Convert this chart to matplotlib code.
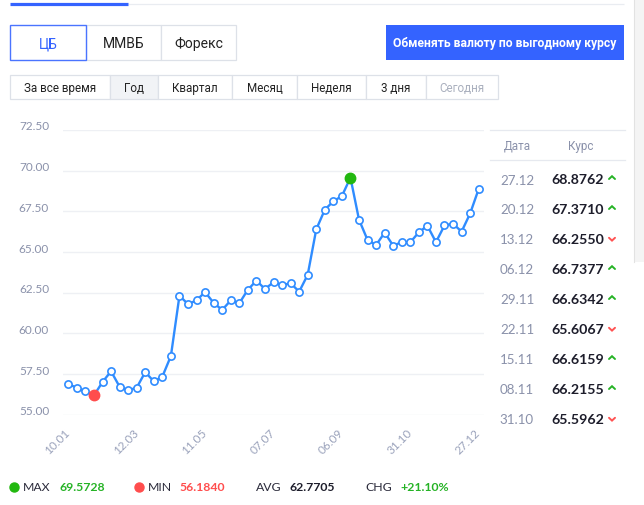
import matplotlib
matplotlib.use('Agg')
import matplotlib.pyplot as plt
from matplotlib.patches import Rectangle
from matplotlib.transforms import ScaledTranslation

# ---------------- data ----------------
rates = [56.88, 56.66, 56.44, 56.184, 57.01, 57.67, 56.72, 56.50, 56.66, 57.62,
         57.05, 57.34, 58.61, 62.31, 61.80, 62.03, 62.54, 61.87, 61.44, 62.03,
         61.85, 62.68, 63.24, 62.73, 63.14, 62.95, 63.09, 62.56, 63.60, 66.39,
         67.60, 68.12, 68.44, 69.5728, 66.99, 65.74, 65.43, 66.19, 65.39, 65.61,
         65.5962, 66.2155, 66.6159, 65.6067, 66.6342, 66.7377, 66.2550, 67.3710, 68.8762]
x_labels = ['10.01', '12.03', '11.05', '07.07', '06.09', '31.10', '27.12']
x_label_step = 8
y_ticks = [55.0, 57.5, 60.0, 62.5, 65.0, 67.5, 70.0, 72.5]

sources = ['ЦБ', 'ММВБ', 'Форекс']
periods = ['За все время', 'Год', 'Квартал', 'Месяц', 'Неделя', '3 дня', 'Сегодня']
action_label = 'Обменять валюту по выгодному курсу'

table_header = ['Дата', 'Курс']
table_dates = ['27.12', '20.12', '13.12', '06.12', '29.11', '22.11', '15.11', '08.11', '31.10']

stat_names = ['MAX', 'MIN', 'AVG', 'CHG']
stat_values = ['69.5728', '56.1840', '62.7705', '+21.10%']

# ---------------- style ----------------
W, H = 644, 506
BLUE = '#3463ff'
LINE = '#2f8cff'
GREEN = '#26b326'
RED = '#ff5252'
GRAYTXT = '#8a91aa'
DARK = '#1d1d2b'
BORDER = '#dde1e8'
UI_FONT = ['Roboto', 'DejaVu Sans']
NUM_FONT = ['Lato', 'Open Sans', 'DejaVu Sans']

plt.rcParams['font.family'] = UI_FONT

fig = plt.figure(figsize=(W / 100, H / 100), dpi=100)
fig.patch.set_facecolor('white')

ui = fig.add_axes([0, 0, 1, 1], zorder=0)
ui.set_xlim(0, W)
ui.set_ylim(H, 0)
ui.axis('off')

# top tab indicator
ui.plot([128, 624], [4.6, 4.6], color='#e9ecf1', lw=0.9, solid_capstyle='butt')
ui.plot([10, 128], [4.6, 4.6], color=BLUE, lw=2.3, solid_capstyle='butt')

# right scrollbar strip
ui.add_patch(Rectangle((634, 0), 10, 263, fc='#f4f4f4', ec='none'))
ui.plot([634, 634], [0, 263], color='#e2e2e2', lw=0.8)

# source buttons
src_edges = [10, 86, 161, 236]
for i, s in enumerate(sources):
    x0, x1 = src_edges[i], src_edges[i + 1]
    if i > 0:
        ui.add_patch(Rectangle((x0, 26), x1 - x0, 35, fc='white', ec=BORDER, lw=0.9))
for i, s in enumerate(sources):
    x0, x1 = src_edges[i], src_edges[i + 1]
    if i == 0:
        ui.add_patch(Rectangle((x0, 26), x1 - x0, 35, fc='white', ec='#4a74ff', lw=1.0, zorder=3))
    ui.text((x0 + x1) / 2, 44, s, ha='center', va='center', fontsize=10,
            color=BLUE if i == 0 else '#222222', zorder=4)

# action button
ui.add_patch(Rectangle((386, 26), 238, 35, fc=BLUE, ec='none'))
ui.text(505, 43.5, action_label, ha='center', va='center', fontsize=8.7,
        color='white', fontweight='bold')

# period tabs
tab_edges = [10, 110, 158, 232, 297, 366, 426, 498]
for i, p in enumerate(periods):
    x0, x1 = tab_edges[i], tab_edges[i + 1]
    fc = '#f1f3f6' if p == 'Год' else 'white'
    ui.add_patch(Rectangle((x0, 76), x1 - x0, 24, fc=fc, ec=BORDER, lw=0.9))
    ui.text((x0 + x1) / 2, 88.5, p, ha='center', va='center', fontsize=8.4,
            color='#aab0be' if p == 'Сегодня' else '#222222')

# ---------------- chart ----------------
top_px, bot_px, left_px, right_px = 131, 415.7, 63, 484
ax = fig.add_axes([left_px / W, 1 - bot_px / H, (right_px - left_px) / W,
                   (bot_px - top_px) / H], zorder=2)
ax.patch.set_alpha(0)
n = len(rates)
ax.set_xlim(-0.62, n - 1 + 0.62)
ax.set_ylim(y_ticks[0], y_ticks[-1])
for sp in ax.spines.values():
    sp.set_visible(False)
ax.set_yticks(y_ticks)
ax.set_yticklabels([f'{t:.2f}' for t in y_ticks], fontfamily=NUM_FONT,
                   fontsize=8.5, color=GRAYTXT)
ax.tick_params(axis='y', length=0, pad=10)
up_shift = ScaledTranslation(0, 5 / 100, fig.dpi_scale_trans)
for lab in ax.get_yticklabels():
    lab.set_transform(lab.get_transform() + up_shift)
ax.yaxis.grid(True, color='#eef0f4', lw=1.0)
ax.set_axisbelow(True)

xt = list(range(0, n, x_label_step))
ax.set_xticks(xt)
ax.set_xticklabels(x_labels, rotation=45, ha='right', va='center',
                   rotation_mode='anchor', fontfamily=NUM_FONT,
                   fontsize=8.5, color='#9aa2bb')
ax.tick_params(axis='x', length=0, pad=11)

xs = list(range(n))
ax.plot(xs, rates, color=LINE, lw=1.7, marker='o', ms=5.2, mfc='white',
        mec=LINE, mew=1.2, zorder=3, clip_on=False)
imin = rates.index(min(rates))
imax = rates.index(max(rates))
ax.plot([imin], [rates[imin]], 'o', ms=7.5, color='#ff4d4d', zorder=4, clip_on=False)
ax.plot([imax], [rates[imax]], 'o', ms=7.5, color='#22b80f', zorder=4, clip_on=False)

# ---------------- table ----------------
ui.plot([490, 625], [131, 131], color='#e6e9ef', lw=0.9)
ui.plot([490, 625], [161, 161], color='#e6e9ef', lw=0.9)
ui.text(517, 146, table_header[0], ha='center', va='center', fontsize=8.4, color=GRAYTXT)
ui.text(581, 146, table_header[1], ha='center', va='center', fontsize=8.4, color=GRAYTXT)
for i, d in enumerate(table_dates):
    k = n - 1 - i
    y = 180 + 30 * i
    ui.text(517, y + 0.5, d, ha='center', va='center', fontsize=9.6, color=GRAYTXT,
            fontfamily=NUM_FONT)
    ui.text(551, y, f'{rates[k]:.4f}', ha='left', va='center', fontsize=10.2,
            color=DARK, fontweight='bold', fontfamily=NUM_FONT)
    up = rates[k] >= rates[k - 1]
    if up:
        ui.plot([609, 612, 615], [y, y - 2.8, y], color=GREEN, lw=1.4,
                solid_capstyle='round', solid_joinstyle='miter')
    else:
        ui.plot([609, 612, 615], [y - 1.2, y + 1.6, y - 1.2], color=RED, lw=1.4,
                solid_capstyle='round', solid_joinstyle='miter')

# ---------------- stats row ----------------
sy = 488
ui.plot([14], [sy], 'o', ms=6.5, color='#22b80f')
ui.plot([139], [sy], 'o', ms=6.5, color='#ff4d4d')
name_x = [23, 148, 256, 365]
val_x = [60, 180, 290, 400]
val_c = [GREEN, '#ff4d4d', DARK, GREEN]
for nm, v, nx, vx, c in zip(stat_names, stat_values, name_x, val_x, val_c):
    ui.text(nx, sy, nm, ha='left', va='center', fontsize=8.8, color='#2a2a3a',
            fontfamily=NUM_FONT)
    ui.text(vx, sy, v, ha='left', va='center', fontsize=8.8, color=c,
            fontweight='bold', fontfamily=NUM_FONT)

fig.savefig('out.png', dpi=100, facecolor='white')
